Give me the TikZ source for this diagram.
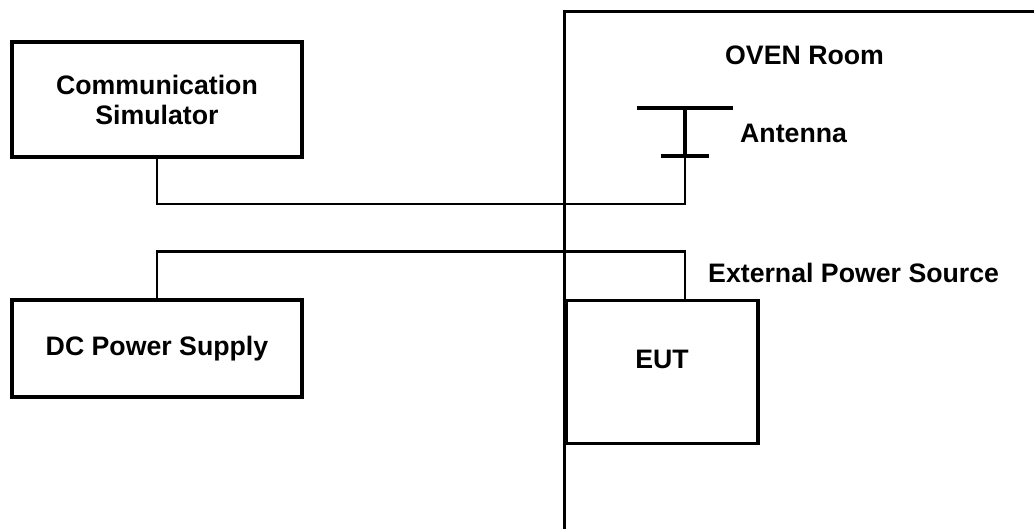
\documentclass[tikz,border=0pt]{standalone}
\usepackage{fontspec}
\setmainfont{Liberation Sans}
\usepackage{tikz}
\usetikzlibrary{positioning,calc}

\begin{document}
\begin{tikzpicture}
    [x=1pt, y=-1pt,
    every node/.style = {font=\fontsize{26.7}{30}\selectfont\bfseries},
    box/.style = {shape=rectangle, draw, line width=3.3pt, align=center, inner sep=0pt},
    lbl/.style = {inner sep=0pt, anchor=base west},
    wire/.style = {line width=2.8pt},
    wall/.style = {line width=3pt}]

    \useasboundingbox (0,0) rectangle (1034,529);

    % equipment outside the room
    \node[box, minimum width=290, minimum height=115] (comsim) at (157,99.5) {Communication\\ Simulator};
    \node[box, minimum width=290, minimum height=97] (dcps) at (157,348.5) {DC Power Supply};

    % the room
    \coordinate (walltop) at (564,12);
    \coordinate (wallbot) at (564,529);
    \coordinate (roofend) at (1034,12);
    \draw[wall] (wallbot) -- (walltop) -- (roofend);
    \node[lbl] (room) at (725,65) {OVEN Room};

    % antenna
    \coordinate (anttop) at (685,108);
    \coordinate (antfoot) at (685,156);
    \draw[line width=4pt] ($(anttop)+(-48,0)$) -- ($(anttop)+(48,0)$);
    \draw[line width=4pt] (anttop) -- (antfoot);
    \draw[line width=3.5pt] ($(antfoot)+(-24,0)$) -- ($(antfoot)+(24,0)$);
    \node[lbl] (ant) at (740,143) {Antenna};

    % EUT
    \node[box, minimum width=192, minimum height=143] (eut) at (662,372) {};
    \node[inner sep=0pt] (eutlbl) at (662,359) {EUT};
    \node[lbl] (ext) at (708,283) {External Power Source};

    % cables
    \draw[wire] (comsim.south) |- ($(antfoot)+(0,48)$) -- (antfoot);
    \draw[wire] (dcps.north) |- ($(eut.north)+(23,-47)$) -- ($(eut.north)+(23,0)$);
\end{tikzpicture}
\end{document}
